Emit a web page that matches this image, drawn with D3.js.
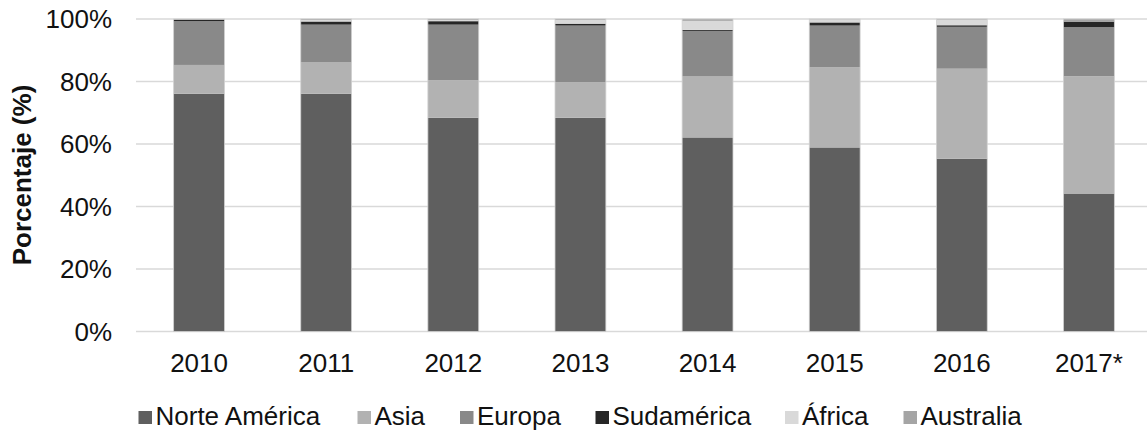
<!DOCTYPE html>
<html><head><meta charset="utf-8">
<script src="https://cdn.jsdelivr.net/npm/d3@7"></script>
<style>body{margin:0;background:#fff}svg{display:block;font-family:"Liberation Sans",Arial,sans-serif}</style>
</head><body>
<svg id="c" width="1147" height="432"></svg>
<script>
const years = ["2010","2011","2012","2013","2014","2015","2016","2017*"];
const seriesNames = ["Norte América","Asia","Europa","Sudamérica","África","Australia"];
const norteAmerica = [76.1,76.1,68.4,68.4,62.1,58.9,55.3,44.0];
const asia         = [9.2,10.0,12.0,11.4,19.5,25.7,28.8,37.7];
const europa       = [14.0,12.1,17.8,18.1,14.6,13.3,13.4,15.7];
const sudamerica   = [0.5,1.0,1.1,0.6,0.3,1.0,0.5,1.8];
const africa       = [0.1,0.5,0.4,1.2,2.9,1.0,1.8,0.1];
const australia    = [0.1,0.3,0.3,0.3,0.6,0.1,0.2,0.7];
const yTicks = [0,20,40,60,80,100];
const colors = ["#5f5f5f","#b2b2b2","#898989","#262626","#d9d9d9","#a5a5a5"];

const seriesVals = [norteAmerica,asia,europa,sudamerica,africa,australia];
const rows = years.map((y,i)=>{const r={year:y};seriesNames.forEach((s,k)=>r[s]=seriesVals[k][i]);return r;});
const stacked = d3.stack().keys(seriesNames)(rows);

const svg = d3.select("#c");
const x = d3.scaleBand().domain(years).range([135.5,1152.5]).paddingInner(0.6).paddingOuter(0.3);
const y = d3.scaleLinear().domain([0,100]).range([331.5,19]);
const FS = 26;

// gridlines
svg.append("g").selectAll("line").data(yTicks).join("line")
  .attr("x1",136).attr("x2",1147)
  .attr("y1",d=>y(d)).attr("y2",d=>y(d))
  .attr("stroke","#d9d9d9").attr("stroke-width",1.5);

// y labels
svg.append("g").selectAll("text").data(yTicks).join("text")
  .attr("x",112).attr("y",d=>y(d)).attr("dy","0.36em")
  .attr("text-anchor","end").attr("font-size",FS).attr("fill","#111")
  .text(d=>d+"%");

// bars
svg.append("g").selectAll("g").data(stacked).join("g")
  .attr("fill",(d,i)=>colors[i])
  .selectAll("rect").data(d=>d).join("rect")
  .attr("x",d=>x(d.data.year)).attr("width",x.bandwidth())
  .attr("y",d=>y(d[1])).attr("height",d=>Math.max(0,y(d[0])-y(d[1])));
// bar outline
svg.append("g").selectAll("rect").data(years).join("rect")
  .attr("x",d=>x(d)).attr("width",x.bandwidth())
  .attr("y",y(100)).attr("height",y(0)-y(100))
  .attr("fill","none").attr("stroke","#d0d0d0").attr("stroke-width",0.8);

// x labels
svg.append("g").selectAll("text").data(years).join("text")
  .attr("x",d=>x(d)+x.bandwidth()/2).attr("y",372)
  .attr("text-anchor","middle").attr("font-size",FS).attr("fill","#111")
  .text(d=>d);

// y title
svg.append("text").attr("transform","translate(22,175) rotate(-90)")
  .attr("text-anchor","middle").attr("dy","0.36em")
  .attr("font-size",FS).attr("font-weight","bold").attr("fill","#111")
  .text("Porcentaje (%)");

// legend
const legX = [138.5,357.5,460,595.5,785,903.5];
const leg = svg.append("g").selectAll("g").data(seriesNames).join("g")
  .attr("transform",(d,i)=>`translate(${legX[i]},0)`);
leg.append("rect").attr("x",0).attr("y",411).attr("width",13.5).attr("height",13)
  .attr("fill",(d,i)=>colors[i]);
leg.append("text").attr("x",17).attr("y",425)
  .attr("font-size",FS).attr("fill","#111").text(d=>d);
</script>
</body></html>
